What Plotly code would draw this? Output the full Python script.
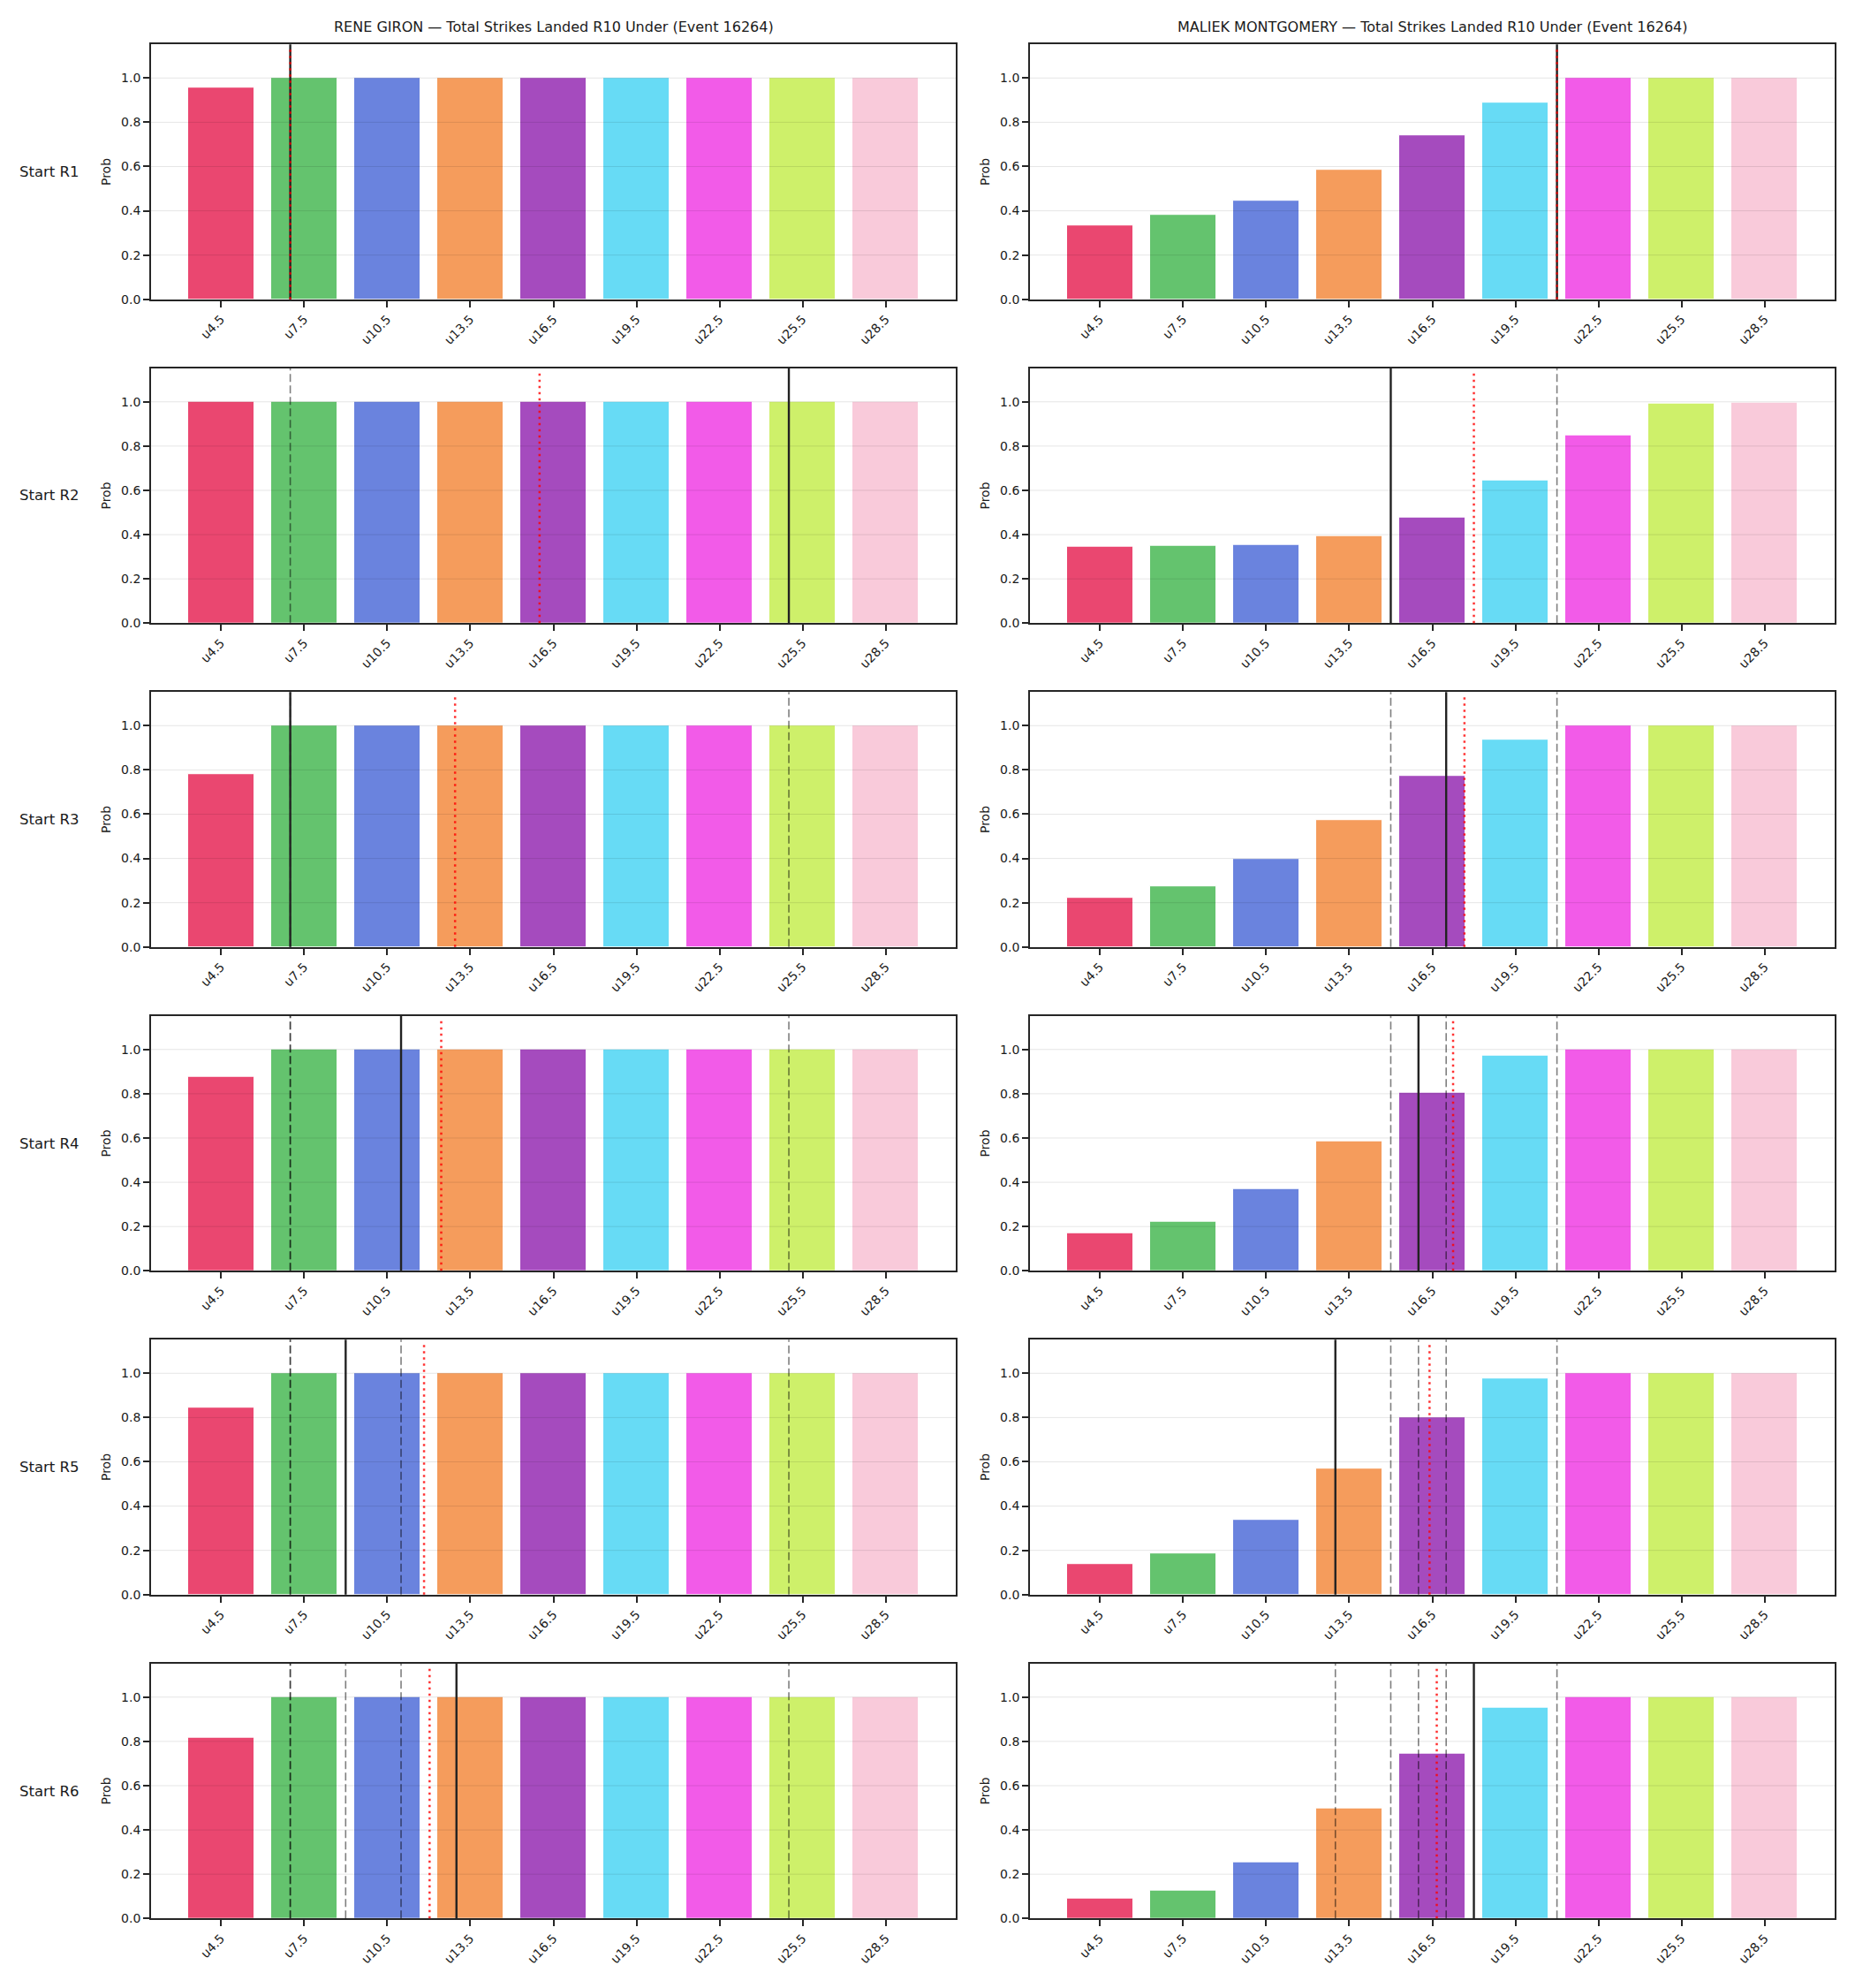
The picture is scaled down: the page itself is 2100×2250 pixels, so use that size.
import plotly.graph_objects as go

# ---------------- data ----------------
categories = ["u4.5", "u7.5", "u10.5", "u13.5", "u16.5", "u19.5", "u22.5", "u25.5", "u28.5"]
line_values = [4.5, 7.5, 10.5, 13.5, 16.5, 19.5, 22.5, 25.5, 28.5]
y_ticks = [0.0, 0.2, 0.4, 0.6, 0.8, 1.0]
row_labels = ["Start R1", "Start R2", "Start R3", "Start R4", "Start R5", "Start R6"]

titles = [
    "RENE GIRON — Total Strikes Landed R10 Under (Event 16264)",
    "MALIEK MONTGOMERY — Total Strikes Landed R10 Under (Event 16264)",
]

giron_probs = [
    [0.957, 1.0, 1.0, 1.0, 1.0, 1.0, 1.0, 1.0, 1.0],
    [0.999, 1.0, 1.0, 1.0, 1.0, 1.0, 1.0, 1.0, 1.0],
    [0.782, 1.0, 1.0, 1.0, 1.0, 1.0, 1.0, 1.0, 1.0],
    [0.877, 1.0, 1.0, 1.0, 1.0, 1.0, 1.0, 1.0, 1.0],
    [0.846, 1.0, 1.0, 1.0, 1.0, 1.0, 1.0, 1.0, 1.0],
    [0.815, 1.0, 1.0, 1.0, 1.0, 1.0, 1.0, 1.0, 1.0],
]
montgomery_probs = [
    [0.335, 0.383, 0.447, 0.586, 0.739, 0.890, 1.0, 1.0, 1.0],
    [0.347, 0.351, 0.355, 0.395, 0.479, 0.646, 0.849, 0.992, 0.997],
    [0.221, 0.273, 0.397, 0.572, 0.771, 0.938, 1.0, 1.0, 1.0],
    [0.171, 0.223, 0.371, 0.585, 0.805, 0.973, 1.0, 1.0, 1.0],
    [0.137, 0.188, 0.336, 0.570, 0.801, 0.976, 1.0, 1.0, 1.0],
    [0.090, 0.126, 0.254, 0.497, 0.745, 0.951, 1.0, 1.0, 1.0],
]

# solid black markers (current round), dashed = earlier rounds, dotted red = projection
giron_actual = [7, 25, 7, 11, 9, 13]
montgomery_actual = [21, 15, 17, 16, 13, 18]
giron_proj = [7.0, 16.0, 12.95, 12.45, 11.83, 12.03]
montgomery_proj = [21.0, 18.0, 17.66, 17.25, 16.4, 16.66]

bar_colors = ["#EA4770", "#64C36E", "#6A83DE", "#F59C5C", "#A54BBE",
              "#67DBF5", "#F25BE8", "#CEF06A", "#F9CADA"]

# ---------------- layout geometry ----------------
W, H = 2100, 2250
col_x = [(171, 1082), (1166, 2077)]
row_top0, row_pitch, row_h = 50.2, 366.5, 288.6

probs_all = [giron_probs, montgomery_probs]
actual_all = [giron_actual, montgomery_actual]
proj_all = [giron_proj, montgomery_proj]

axis_col = "#262626"
fig = go.Figure()
layout = dict(
    width=W, height=H,
    margin=dict(l=0, r=0, t=0, b=0),
    paper_bgcolor="white", plot_bgcolor="white",
    font=dict(family="DejaVu Sans", color="#1a1a1a", size=14),
    showlegend=False,
    bargap=0,
)
shapes = []
annotations = []

for c in range(2):
    for r in range(6):
        k = r * 2 + c + 1
        xa = "x" if k == 1 else f"x{k}"
        ya = "y" if k == 1 else f"y{k}"
        xkey = "xaxis" if k == 1 else f"xaxis{k}"
        ykey = "yaxis" if k == 1 else f"yaxis{k}"
        top = row_top0 + r * row_pitch
        bot = top + row_h
        fig.add_trace(go.Bar(
            x=line_values, y=probs_all[c][r], width=2.4,
            marker=dict(color=bar_colors, line=dict(color="white", width=1)),
            xaxis=xa, yaxis=ya, hoverinfo="skip",
        ))
        layout[xkey] = dict(
            domain=[col_x[c][0] / W, col_x[c][1] / W], anchor=ya,
            range=[4.5 - 3 * 0.842, 28.5 + 3 * 0.842],
            tickmode="array", tickvals=line_values, ticktext=categories,
            tickangle=-45, ticks="outside", ticklen=7, tickwidth=1.5,
            tickcolor=axis_col, tickfont=dict(size=14),
            showline=True, mirror=True, linecolor=axis_col, linewidth=1.8,
            showgrid=False, zeroline=False, automargin=False,
        )
        layout[ykey] = dict(
            domain=[1 - bot / H, 1 - top / H], anchor=xa,
            range=[0, 1.152],
            tickmode="array", tickvals=y_ticks,
            ticktext=[f"{t:.1f}" for t in y_ticks],
            ticks="outside", ticklen=7, tickwidth=1.5, tickcolor=axis_col,
            tickfont=dict(size=14),
            showline=True, mirror=True, linecolor=axis_col, linewidth=1.8,
            showgrid=False, zeroline=False, automargin=False,
            title=dict(text="Prob", font=dict(size=14), standoff=8),
        )
        # grid lines drawn over bars (like matplotlib)
        for t in y_ticks[1:]:
            shapes.append(dict(type="line", xref=f"{xa} domain", yref=ya,
                               x0=0, x1=1, y0=t, y1=t, layer="above",
                               line=dict(color="rgba(0,0,0,0.10)", width=1)))
        # earlier rounds: dashed
        for v in actual_all[c][:r]:
            shapes.append(dict(type="line", xref=xa, yref=f"{ya} domain",
                               x0=v, x1=v, y0=0, y1=1, layer="above",
                               line=dict(color="rgba(0,0,0,0.5)", width=1.6, dash="9px,4px")))
        # current round: solid black
        v = actual_all[c][r]
        shapes.append(dict(type="line", xref=xa, yref=f"{ya} domain",
                           x0=v, x1=v, y0=0, y1=1, layer="above",
                           line=dict(color="#222222", width=2.4)))
        # projection: dotted red
        v = proj_all[c][r]
        shapes.append(dict(type="line", xref=xa, yref=f"{ya} domain",
                           x0=v, x1=v, y0=0, y1=0.985, layer="above",
                           line=dict(color="rgba(255,0,0,0.8)", width=2.5, dash="2.5px,4.5px")))
        if c == 0:
            annotations.append(dict(
                text=row_labels[r], xref="paper", yref="paper",
                x=56 / W, y=1 - (top + bot) / 2 / H, xanchor="center", yanchor="middle",
                showarrow=False, font=dict(size=16.5, color="#1a1a1a"),
            ))
    annotations.append(dict(
        text=titles[c], xref="paper", yref="paper",
        x=(col_x[c][0] + col_x[c][1]) / 2 / W, y=1 - row_top0 / H,
        xanchor="center", yanchor="bottom", yshift=8,
        showarrow=False, font=dict(size=16, color="#1a1a1a"),
    ))

layout["shapes"] = shapes
layout["annotations"] = annotations
fig.update_layout(**layout)
fig.write_html("out.html")
